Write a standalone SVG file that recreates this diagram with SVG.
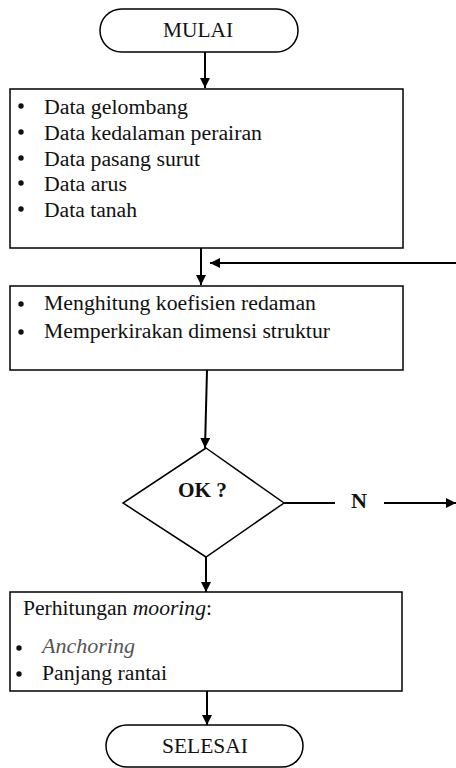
<svg xmlns="http://www.w3.org/2000/svg" width="456" height="768" viewBox="0 0 456 768">
<style>
.box{fill:#fff;stroke:#000;stroke-width:1.5}
.t{font-family:"Liberation Serif","Times New Roman","DejaVu Serif",serif;font-size:20px;fill:#111}
.b{font-family:"Liberation Serif","Times New Roman","DejaVu Serif",serif;font-size:21px;font-weight:bold;fill:#111}
.dot{fill:#111}
.c{stroke:#000;stroke-width:2;fill:none}
</style>
<defs>
<marker id="ah" markerWidth="10" markerHeight="10" refX="10" refY="5" orient="auto" markerUnits="userSpaceOnUse">
<path d="M0,0 L10,5 L0,10 Z" fill="#000"/>
</marker>
</defs>
<rect width="456" height="768" fill="#fff"/>
<g id="connectors">
<line class="c" x1="205" y1="52" x2="205" y2="88" marker-end="url(#ah)"/>
<line class="c" x1="201" y1="248" x2="201" y2="285" marker-end="url(#ah)"/>
<line class="c" x1="456" y1="263" x2="210" y2="263" marker-end="url(#ah)"/>
<line class="c" x1="207" y1="370" x2="205" y2="448" marker-end="url(#ah)"/>
<line class="c" x1="284" y1="503" x2="335" y2="503"/>
<line class="c" x1="384" y1="503" x2="456" y2="503" marker-end="url(#ah)"/>
<line class="c" x1="206" y1="557" x2="206" y2="592" marker-end="url(#ah)"/>
<line class="c" x1="207" y1="691" x2="207" y2="725" marker-end="url(#ah)"/>
</g>
<g id="mulai">
<rect class="box" x="100" y="9" width="198" height="43" rx="21.5"/>
<text class="t" x="163" y="37" textLength="70" lengthAdjust="spacingAndGlyphs">MULAI</text>
</g>
<g id="data">
<rect class="box" x="10" y="89" width="393" height="159"/>
<g class="dot">
<circle cx="21" cy="106" r="2.7"/><circle cx="21" cy="132" r="2.7"/><circle cx="21" cy="158" r="2.7"/><circle cx="21" cy="183" r="2.7"/><circle cx="21" cy="209" r="2.7"/>
</g>
<g class="t">
<text x="44" y="114" textLength="144" lengthAdjust="spacingAndGlyphs">Data gelombang</text>
<text x="44" y="140" textLength="218" lengthAdjust="spacingAndGlyphs">Data kedalaman perairan</text>
<text x="44" y="166" textLength="156" lengthAdjust="spacingAndGlyphs">Data pasang surut</text>
<text x="44" y="191" textLength="83" lengthAdjust="spacingAndGlyphs">Data arus</text>
<text x="44" y="217" textLength="93" lengthAdjust="spacingAndGlyphs">Data tanah</text>
</g>
</g>
<g id="hitung">
<rect class="box" x="10" y="286" width="393" height="84"/>
<g class="dot"><circle cx="21" cy="304" r="2.7"/><circle cx="21" cy="332" r="2.7"/></g>
<g class="t">
<text x="44" y="310" textLength="272" lengthAdjust="spacingAndGlyphs">Menghitung koefisien redaman</text>
<text x="44" y="338" textLength="286" lengthAdjust="spacingAndGlyphs">Memperkirakan dimensi struktur</text>
</g>
</g>
<g id="ok">
<polygon class="box" points="206,448 284,503 206,557 123,503"/>
<text class="b" x="178" y="497" textLength="49" lengthAdjust="spacingAndGlyphs">OK ?</text>
</g>
<text class="b" x="351" y="508" textLength="16" lengthAdjust="spacingAndGlyphs">N</text>
<g id="mooring">
<rect class="box" x="10" y="592" width="392" height="99"/>
<g class="dot"><circle cx="19" cy="648" r="2.7"/><circle cx="19" cy="674" r="2.7"/></g>
<g class="t">
<text x="23" y="615" textLength="189" lengthAdjust="spacingAndGlyphs">Perhitungan <tspan font-style="italic">mooring</tspan>:</text>
<text x="42" y="653" font-style="italic" fill="#555" textLength="93" lengthAdjust="spacingAndGlyphs">Anchoring</text>
<text x="42" y="680" textLength="125" lengthAdjust="spacingAndGlyphs">Panjang rantai</text>
</g>
</g>
<g id="selesai">
<rect class="box" x="106" y="725" width="197" height="42" rx="21"/>
<text class="t" x="162" y="753" textLength="86" lengthAdjust="spacingAndGlyphs">SELESAI</text>
</g>
</svg>
